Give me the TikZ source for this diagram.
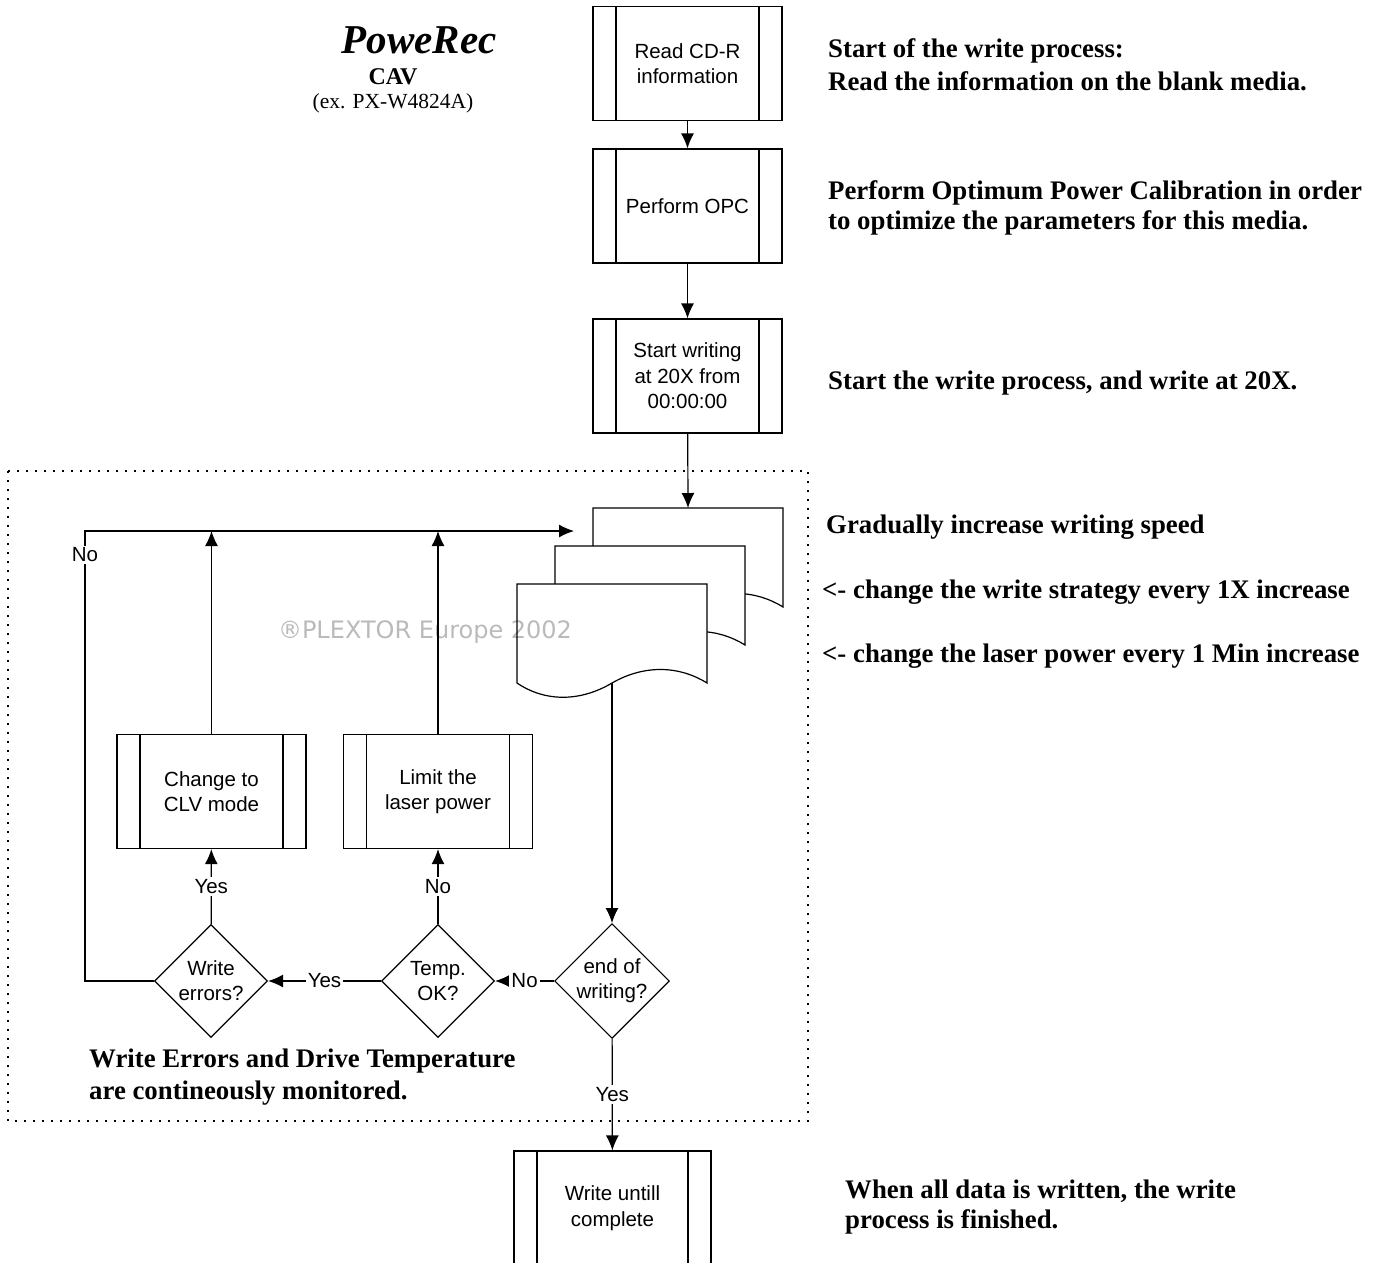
\documentclass[tikz,border=0pt]{standalone}
\usepackage{fontspec}
\setmainfont{Liberation Serif}
\newfontfamily\flowfont{Liberation Sans}
\newfontfamily\markfont{DejaVu Sans}
\usetikzlibrary{%
  arrows.meta,%
  calc,%
  positioning,%
  shapes.geometric%
}
\tikzset{>={Latex[length=15pt,width=13pt]}}
\tikzset{
  proc/.style={draw,line width=1.2pt,fill=white,minimum width=189pt,
    minimum height=114pt,align=center,
    font=\flowfont\fontsize{20.5}{25.5}\selectfont,
    path picture={\draw[line width=1.2pt]
      ([xshift=23pt]path picture bounding box.north west) --
      ([xshift=23pt]path picture bounding box.south west)
      ([xshift=-23pt]path picture bounding box.north east) --
      ([xshift=-23pt]path picture bounding box.south east);}},
  decide/.style={draw,diamond,aspect=1,line width=1.2pt,inner sep=0pt,
    minimum width=113pt,minimum height=113pt,align=center,
    font=\flowfont\fontsize{20.5}{25}\selectfont},
  lbl/.style={fill=white,inner sep=2pt,
    font=\flowfont\fontsize{20.5}{24}\selectfont},
  note/.style={anchor=west,align=left,inner sep=0pt,
    font=\bfseries\fontsize{26.8}{30}\selectfont},
  link/.style={line width=1.2pt}
}

\begin{document}
\begin{tikzpicture}[x=1pt,y=-1pt]
    \clip (0,0) rectangle (1381,1262);
    \useasboundingbox (0,0) rectangle (1381,1262);
    % title
    \node[font=\bfseries\itshape\fontsize{41}{44}\selectfont] (title) at (419,40) {PoweRec};
    \node[font=\bfseries\fontsize{24}{28}\selectfont] (cav) at (393,77) {CAV};
    \node[font=\fontsize{21.5}{24}\selectfont] (model) at (393,103) {(ex. PX-W4824A)};
    % monitored area
    \draw[line width=1.6pt,dash pattern=on 1.6pt off 7.4pt] (8,471) rectangle (808,1121);
    % main column
    \node[proc] (read) at (687.5,63.5) {Read CD-R\\information};
    \node[proc] (opc) at (687.5,206) {Perform OPC};
    \node[proc] (start) at (687.5,376) {Start writing\\at 20X from\\00:00:00};
    % stacked documents
    \foreach \d in {2,1,0}{
      \draw[link,fill=white,shift={(38*\d,-38*\d)}] (517,584) -- (707,584) -- (707,683)
        .. controls (680,666) and (645,664) .. (612,683)
        .. controls (580,702) and (545,702) .. (517,683) -- cycle;
    }
    \node[text=black,text opacity=0.27,font=\markfont\fontsize{24}{28}\selectfont] (mark) at (425,632) {®PLEXTOR Europe 2002};
    \coordinate (doctop) at (688,508);
    \coordinate (docin) at (574,531);
    \coordinate (docout) at (612,683);
    \coordinate (loop) at (85,531);
    % decisions
    \node[decide] (end) at (612,981) {end of\\writing?};
    \node[decide] (temp) at (438,981) {Temp.\\OK?};
    \node[decide] (err) at (211,981) {Write\\errors?};
    \node[proc] (clv) at (211.5,791.5) {Change to\\CLV mode};
    \node[proc] (limit) at (438,791.5) {Limit the\\laser power};
    \node[proc,minimum width=197pt] (done) at (612.5,1208) {Write untill\\complete};
    % connectors
    \draw[link,->] (read) -- (opc);
    \draw[link,->] (opc) -- (start);
    \draw[link,->] (start) -- (doctop);
    \draw[link,->] (docout) -- (end);
    \draw[link,->] (end) -- node[lbl] {No} (temp);
    \draw[link,->] (temp) -- node[lbl] {Yes} (err);
    \draw[link,->] (err) -- node[lbl] {Yes} (clv);
    \draw[link,->] (temp) -- node[lbl] {No} (limit);
    \draw[link,->] (clv) -- (clv |- docin);
    \draw[link,->] (limit) -- (limit |- docin);
    \draw[link,->] (err.west) -| (loop) -- (docin);
    \node[lbl] (again) at (85,555) {No};
    \draw[link,->] (end) -- node[lbl] {Yes} (done);
    % notes
    \node[note,font=\bfseries\fontsize{26.8}{33}\selectfont] (n1) at (828,65) {Start of the write process:\\Read the information on the blank media.};
    \node[note] (n2) at (828,207.5) {Perform Optimum Power Calibration in order\\to optimize the parameters for this media.};
    \node[note] (n3) at (828,383) {Start the write process, and write at 20X.};
    \node[note] (n4) at (826,527) {Gradually increase writing speed};
    \node[note] (n5) at (822,592) {<- change the write strategy every 1X increase};
    \node[note] (n6) at (822,656) {<- change the laser power every 1 Min increase};
    \node[note] (n7) at (845,1207) {When all data is written, the write\\process is finished.};
    \node[note,font=\bfseries\fontsize{26.8}{32}\selectfont] (n8) at (89,1077) {Write Errors and Drive Temperature\\are contineously monitored.};
\end{tikzpicture}
\end{document}
